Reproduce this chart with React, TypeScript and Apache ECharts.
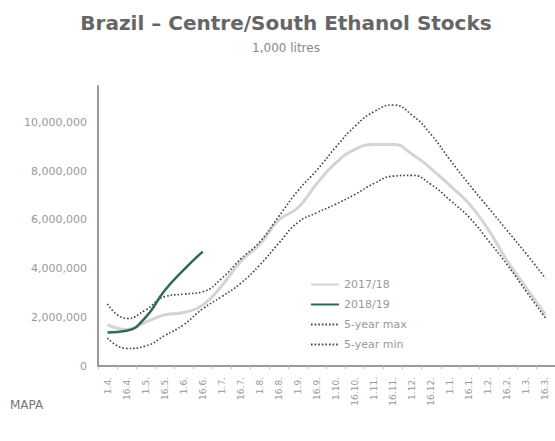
import React, { useEffect, useRef } from "react";
import * as echarts from "echarts";

const categories = [
  "1.4.", "16.4.", "1.5.", "16.5.", "1.6.", "16.6.", "1.7.", "16.7.", "1.8.", "16.8.",
  "1.9.", "16.9.", "1.10.", "16.10.", "1.11.", "16.11.", "1.12.", "16.12.", "1.1.", "16.1.",
  "1.2.", "16.2.", "1.3.", "16.3.",
];

const s1718 = [
  1700000, 1500000, 1800000, 2100000, 2200000, 2500000, 3300000, 4300000, 5000000, 6000000,
  6500000, 7500000, 8350000, 8900000, 9100000, 9100000, 8700000, 8100000, 7400000, 6650000,
  5600000, 4300000, 3200000, 2100000,
];

const s1819 = [1380000, 1450000, 2000000, 3100000, 3950000, 4700000];

const max5 = [
  2550000, 1950000, 2300000, 2850000, 2950000, 3050000, 3600000, 4400000, 5100000, 6150000,
  7200000, 8050000, 9000000, 9850000, 10450000, 10720000, 10300000, 9500000, 8450000, 7450000,
  6500000, 5550000, 4600000, 3600000,
];

const min5 = [
  1150000, 720000, 820000, 1250000, 1700000, 2350000, 2850000, 3400000, 4150000, 5050000,
  5900000, 6300000, 6650000, 7050000, 7500000, 7800000, 7830000, 7450000, 6800000, 6100000,
  5150000, 4150000, 3050000, 1970000,
];

const yTicks = [0, 2000000, 4000000, 6000000, 8000000, 10000000];

const FONT = "DejaVu Sans, Verdana, sans-serif";

export default function App() {
  const ref = useRef<HTMLDivElement>(null);
  useEffect(() => {
    document.body.style.margin = "0";
    const chart = echarts.init(ref.current!, null, { renderer: "svg" });
    chart.setOption({
      animation: false,
      backgroundColor: "#ffffff",
      textStyle: { fontFamily: FONT },
      graphic: [
        {
          type: "text",
          x: 286,
          y: 23,
          style: {
            text: "Brazil \u2013 Centre/South Ethanol Stocks",
            fontSize: 20,
            fontWeight: "bold",
            fontFamily: FONT,
            fill: "#666666",
            textAlign: "center",
            textVerticalAlign: "middle",
          },
        },
        {
          type: "text",
          x: 286,
          y: 48,
          style: {
            text: "1,000 litres",
            fontSize: 12,
            fontFamily: FONT,
            fill: "#888888",
            textAlign: "center",
            textVerticalAlign: "middle",
          },
        },
        {
          type: "text",
          x: 10,
          y: 405,
          style: {
            text: "MAPA",
            fontSize: 12,
            fontFamily: FONT,
            fill: "#777777",
            textAlign: "left",
            textVerticalAlign: "middle",
          },
        },
      ],
      legend: {
        orient: "vertical",
        left: 305,
        top: 274,
        itemWidth: 28,
        itemHeight: 13,
        itemGap: 9,
        itemStyle: { opacity: 0 },
        textStyle: { fontSize: 11, color: "#999999", fontFamily: FONT },
        data: ["2017/18", "2018/19", "5-year max", "5-year min"],
      },
      grid: { left: 98, right: 0, top: 86, bottom: 75, containLabel: false },
      xAxis: {
        type: "category",
        data: categories,
        boundaryGap: true,
        axisLine: { lineStyle: { color: "#999999", width: 2 } },
        axisTick: { show: true, length: 3, lineStyle: { color: "#bbbbbb" } },
        axisLabel: {
          rotate: 90,
          interval: 0,
          fontSize: 9,
          color: "#999999",
          fontFamily: FONT,
          margin: 11,
        },
        splitLine: { show: false },
      },
      yAxis: {
        type: "value",
        min: 0,
        max: 11500000,
        interval: 2000000,
        axisLine: { show: true, lineStyle: { color: "#999999", width: 2 } },
        axisTick: { show: false },
        splitLine: { show: false },
        axisLabel: {
          fontSize: 11,
          color: "#999999",
          fontFamily: FONT,
          margin: 11,
          formatter: (v: number) =>
            yTicks.indexOf(v) >= 0 ? v.toLocaleString("en-US") : "",
        },
      },
      series: [
        {
          name: "2017/18",
          type: "line",
          data: s1718,
          smooth: true,
          symbol: "none",
          lineStyle: { color: "#d4d4d4", width: 3 },
          itemStyle: { color: "#d4d4d4" },
          z: 2,
        },
        {
          name: "2018/19",
          type: "line",
          data: s1819,
          smooth: true,
          symbol: "none",
          lineStyle: { color: "#2e6b52", width: 2.5 },
          itemStyle: { color: "#2e6b52" },
          z: 4,
        },
        {
          name: "5-year max",
          type: "line",
          data: max5,
          smooth: true,
          symbol: "none",
          lineStyle: { color: "#444444", width: 1.6, type: [1.6, 2] },
          itemStyle: { color: "#444444" },
          z: 3,
        },
        {
          name: "5-year min",
          type: "line",
          data: min5,
          smooth: true,
          symbol: "none",
          lineStyle: { color: "#444444", width: 1.6, type: [1.6, 2] },
          itemStyle: { color: "#444444" },
          z: 3,
        },
      ],
    });
    return () => chart.dispose();
  }, []);
  return <div ref={ref} style={{ width: 555, height: 441 }} />;
}
